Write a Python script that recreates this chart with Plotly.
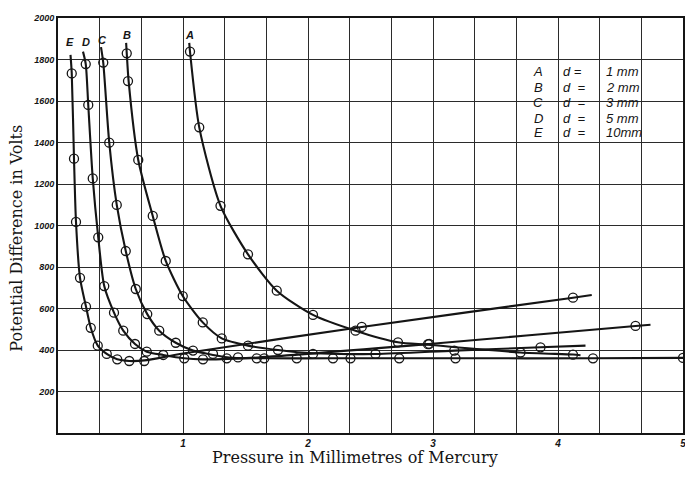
import plotly.graph_objects as go

# Sparking potential against gas pressure for five electrode gaps.
# Each curve: measured points (circles) and the faired line drawn through them.

A_OBS_P = [1.056, 1.13, 1.30, 1.52, 1.75, 2.04, 2.38, 2.72, 2.96, 3.70, 4.12]
A_OBS_V = [1838, 1473, 1095, 861, 686, 569, 493, 437, 428, 388, 378]
A_LINE_P = [1.05, 1.056, 1.13, 1.30, 1.52, 1.75, 2.04, 2.38, 2.72, 2.96, 3.70, 4.12, 4.18]
A_LINE_V = [1880, 1838, 1473, 1095, 861, 686, 569, 493, 437, 425, 388, 378, 375]

B_OBS_P = [0.55, 0.56, 0.642, 0.758, 0.862, 0.998, 1.158, 1.31, 1.52, 1.76, 2.04, 2.54, 3.17, 3.86]
B_OBS_V = [1830, 1696, 1316, 1046, 829, 660, 533, 456, 421, 400, 381, 381, 397, 413]
B_LINE_P = [0.545, 0.55, 0.565, 0.642, 0.758, 0.862, 0.998, 1.158, 1.31, 1.52, 1.76, 2.04, 2.54, 3.17, 3.86, 4.22]
B_LINE_V = [1880, 1830, 1696, 1316, 1046, 829, 660, 533, 456, 421, 400, 384, 381, 397, 413, 421]

C_OBS_P = [0.362, 0.41, 0.47, 0.542, 0.622, 0.714, 0.81, 0.942, 1.08, 1.24, 1.35, 1.44,
           1.59, 1.65, 1.91, 2.20, 2.34, 2.73, 3.18, 4.28, 5.0]
C_OBS_V = [1785, 1399, 1099, 877, 694, 573, 493, 435, 397, 381, 360, 364,
           360, 360, 360, 360, 360, 360, 360, 360, 362]
C_LINE_P = [0.344, 0.362, 0.41, 0.47, 0.542, 0.622, 0.714, 0.81, 0.942, 1.08, 1.24, 1.40,
            1.65, 2.20, 2.73, 3.18, 4.28, 5.0]
C_LINE_V = [1860, 1785, 1399, 1099, 877, 694, 573, 493, 435, 397, 376, 362,
            360, 360, 360, 360, 360, 362]

D_OBS_P = [0.222, 0.242, 0.278, 0.322, 0.37, 0.448, 0.522, 0.616, 0.71, 0.842, 1.01, 1.16, 2.97, 4.62]
D_OBS_V = [1778, 1581, 1227, 943, 708, 580, 493, 429, 392, 376, 360, 355, 429, 516]
D_LINE_P = [0.20, 0.222, 0.242, 0.278, 0.322, 0.37, 0.448, 0.522, 0.616, 0.71, 0.842, 1.01, 1.16,
            1.6, 2.97, 4.62, 4.74]
D_LINE_V = [1838, 1778, 1581, 1227, 943, 708, 580, 493, 429, 392, 376, 360, 355,
            364, 429, 516, 522]

E_OBS_P = [0.11, 0.128, 0.144, 0.176, 0.224, 0.262, 0.318, 0.39, 0.474, 0.57, 0.69, 2.43, 4.12]
E_OBS_V = [1733, 1322, 1017, 748, 609, 507, 421, 381, 355, 347, 347, 511, 652]
E_LINE_P = [0.10, 0.11, 0.128, 0.144, 0.176, 0.224, 0.262, 0.318, 0.39, 0.474, 0.57, 0.69,
            1.0, 2.43, 4.12, 4.27]
E_LINE_V = [1822, 1733, 1322, 1017, 748, 609, 507, 421, 381, 355, 347, 350,
            383, 511, 652, 665]

CURVE_NAMES = ["A", "B", "C", "D", "E"]
GAPS = ["1 mm", "2 mm", "3 mm", "5 mm", "10mm"]
NAME_POS_P = [1.048, 0.552, 0.352, 0.224, 0.096]
NAME_POS_V = [1918, 1918, 1895, 1885, 1885]

Y_TICKS = [200, 400, 600, 800, 1000, 1200, 1400, 1600, 1800, 2000]
X_TICKS = [1, 2, 3, 4, 5]

curves = [
    (A_LINE_P, A_LINE_V, A_OBS_P, A_OBS_V),
    (B_LINE_P, B_LINE_V, B_OBS_P, B_OBS_V),
    (C_LINE_P, C_LINE_V, C_OBS_P, C_OBS_V),
    (D_LINE_P, D_LINE_V, D_OBS_P, D_OBS_V),
    (E_LINE_P, E_LINE_V, E_OBS_P, E_OBS_V),
]

INK = "#151515"
GRID = "#2b2b2b"
HAND = "Liberation Sans"

fig = go.Figure()
for name, (lp, lv, op, ov) in zip(CURVE_NAMES, curves):
    fig.add_trace(go.Scatter(
        x=lp, y=lv, mode="lines", name=name,
        line=dict(color=INK, width=2.1, shape="spline", smoothing=0.7),
        hoverinfo="skip"))
    fig.add_trace(go.Scatter(
        x=op, y=ov, mode="markers", name=name,
        marker=dict(symbol="circle-open", size=9, color=INK, line=dict(width=1.3, color=INK))))

fig.update_layout(
    template="none",
    width=685, height=482,
    margin=dict(l=58, r=2, t=18, b=49),
    paper_bgcolor="white", plot_bgcolor="white",
    showlegend=False,
    xaxis=dict(
        range=[0, 5], tickmode="array", tickvals=X_TICKS,
        ticktext=[str(t) for t in X_TICKS],
        tickfont=dict(family=HAND, size=10, color=INK, style="italic", weight="bold"),
        ticklabeloverflow="allow", automargin=False,
        showgrid=True, gridcolor=GRID, gridwidth=1.3,
        minor=dict(tickmode="linear", tick0=0, dtick=1 / 3, showgrid=True,
                   gridcolor=GRID, gridwidth=1.3),
        showline=True, linecolor=INK, linewidth=1.8, mirror=True,
        zeroline=False, ticks="",
    ),
    yaxis=dict(
        range=[0, 2000], tickmode="array", tickvals=Y_TICKS,
        ticktext=[str(t) for t in Y_TICKS],
        tickfont=dict(family=HAND, size=9, color=INK, style="italic", weight="bold"),
        ticklabeloverflow="allow", automargin=False,
        showgrid=True, gridcolor=GRID, gridwidth=1.3,
        showline=True, linecolor=INK, linewidth=1.8, mirror=True,
        zeroline=False, ticks="",
    ),
)

annotations = []
# curve letters above the top of each curve
for name, px, pv in zip(CURVE_NAMES, NAME_POS_P, NAME_POS_V):
    annotations.append(dict(
        x=px, y=pv, xref="x", yref="y", text=name, showarrow=False,
        font=dict(family=HAND, size=11, color=INK, style="italic", weight="bold")))

# key of electrode distances
key_rows_v = [1740, 1667, 1595, 1518, 1446]
for i, (name, gap) in enumerate(zip(CURVE_NAMES, GAPS)):
    v = key_rows_v[i]
    fnt = dict(family=HAND, size=13, color=INK, style="italic")
    annotations.append(dict(x=3.84, y=v, xref="x", yref="y", text=name,
                            showarrow=False, font=fnt))
    annotations.append(dict(x=4.02, y=v, xref="x", yref="y",
                            text="d =" if i == 0 else "d\u00a0\u00a0=",
                            showarrow=False, xanchor="left", font=fnt))
    annotations.append(dict(x=4.37, y=v, xref="x", yref="y", text=gap,
                            showarrow=False, xanchor="left", font=fnt))

# axis titles
annotations.append(dict(
    x=-0.066, y=0.47, xref="paper", yref="paper", xanchor="center", yanchor="middle",
    text="Potential Difference in Volts", textangle=-90, showarrow=False,
    font=dict(family="DejaVu Serif", size=16, color=INK)))
annotations.append(dict(
    x=0.475, y=-0.06, xref="paper", yref="paper", xanchor="center", yanchor="middle",
    text="Pressure in Millimetres of Mercury", showarrow=False,
    font=dict(family="DejaVu Serif", size=16, color=INK)))

fig.update_layout(annotations=annotations)

fig.write_html("out.html")
